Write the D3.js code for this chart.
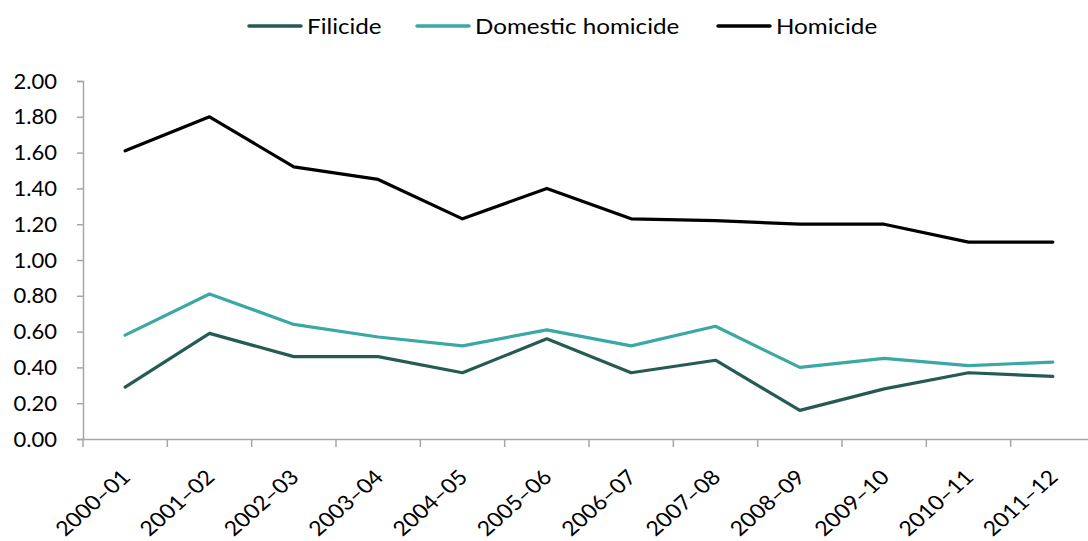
<!DOCTYPE html>
<html><head><meta charset="utf-8">
<script src="https://cdn.jsdelivr.net/npm/d3@7"></script>
<style>
body{margin:0;background:#fff}
svg{display:block;font-family:Lato,"Open Sans",sans-serif}
</style>
</head><body>
<svg id="chart" width="1088" height="541"></svg>
<script>
const categories = ["2000–01","2001–02","2002–03","2003–04","2004–05","2005–06","2006–07","2007–08","2008–09","2009–10","2010–11","2011–12"];
const filicide = [0.29,0.59,0.46,0.46,0.37,0.56,0.37,0.44,0.16,0.28,0.37,0.35];
const domestic = [0.58,0.81,0.64,0.57,0.52,0.61,0.52,0.63,0.40,0.45,0.41,0.43];
const homicide = [1.61,1.80,1.52,1.45,1.23,1.40,1.23,1.22,1.20,1.20,1.10,1.10];
const yTicks = [0,0.2,0.4,0.6,0.8,1.0,1.2,1.4,1.6,1.8,2.0];
const seriesNames = ["Filicide","Domestic homicide","Homicide"];
const seriesColors = ["#265b53","#3ba8a5","#000000"];

(function(){
const svg = d3.select("#chart");
const mLeft = 83, mRight = 1095, mTop = 81, mBottom = 439;
const axisColor = "#a6a6a6";

const x = d3.scaleBand().domain(categories).range([mLeft, mRight]).padding(0);
const y = d3.scaleLinear().domain([0, 2]).range([mBottom, mTop]);

// Y axis
const yAxis = svg.append("g").attr("transform", `translate(${mLeft},0)`)
  .call(d3.axisLeft(y).tickValues(yTicks).tickFormat(d3.format(".2f")).tickSize(6).tickPadding(20));
yAxis.select(".domain").attr("stroke", axisColor).attr("stroke-width", 1.5);
yAxis.selectAll(".tick line").attr("stroke", axisColor).attr("stroke-width", 1.5);
yAxis.selectAll(".tick text").attr("font-size", 22).attr("fill", "#000").attr("font-family", "Lato");

// X axis
const xAxis = svg.append("g").attr("transform", `translate(0,${mBottom})`)
  .call(d3.axisBottom(x).tickSize(0).tickPadding(0));
xAxis.select(".domain").attr("stroke", axisColor).attr("stroke-width", 1.5);
xAxis.selectAll(".tick text")
  .attr("font-size", 20.5).attr("fill", "#000").attr("font-family", "Lato")
  .attr("x", 0).attr("y", 0).attr("dy", null)
  .attr("text-anchor", "end")
  .attr("transform", "translate(6.5,39.5) scale(1.13,1) rotate(-45)");
xAxis.selectAll(".bound").data(categories).enter().append("line")
  .attr("class", "bound")
  .attr("x1", d => x(d)).attr("x2", d => x(d))
  .attr("y1", 0).attr("y2", 8)
  .attr("stroke", axisColor).attr("stroke-width", 1.5);

// Lines
const series = [filicide, domestic, homicide];
const line = d3.line().x((d, i) => x(categories[i]) + x.bandwidth() / 2).y(d => y(d));
series.forEach((s, k) => {
  svg.append("path").datum(s)
    .attr("fill", "none")
    .attr("stroke", seriesColors[k])
    .attr("stroke-width", 3.2)
    .attr("stroke-linejoin", "round")
    .attr("stroke-linecap", "round")
    .attr("d", line);
});

// Legend
const legendX = [249, 417, 718];
const lg = svg.append("g");
seriesNames.forEach((name, k) => {
  const g = lg.append("g").attr("transform", `translate(${legendX[k]},26)`);
  g.append("line").attr("x1", 0).attr("x2", 52).attr("y1", 0).attr("y2", 0)
    .attr("stroke", seriesColors[k]).attr("stroke-width", 3.5).attr("stroke-linecap", "round");
  g.append("text").attr("transform", "translate(58,7.5) scale(1.1,1)").attr("font-size", 22)
    .attr("font-family", "Lato").attr("fill", "#000").text(name);
});
})();
</script>
</body></html>
